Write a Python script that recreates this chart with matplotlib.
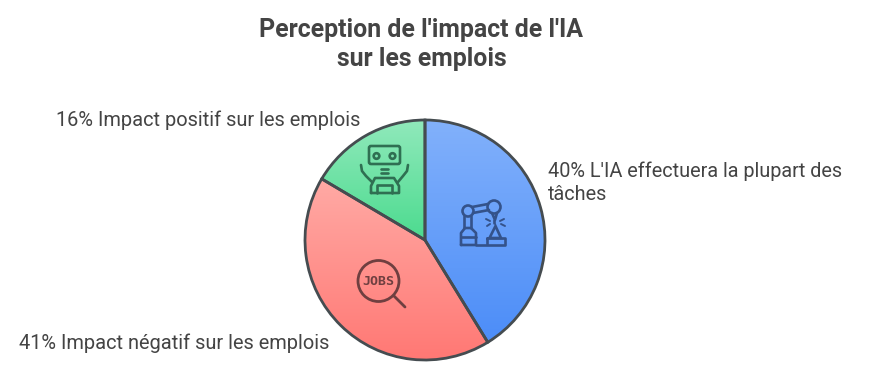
import numpy as np
from matplotlib import pyplot as plt
from matplotlib.colors import LinearSegmentedColormap
from matplotlib.patches import Circle, Polygon, FancyBboxPatch

title = "Perception de l'impact de l'IA\nsur les emplois"
labels = ["40% L'IA effectuera la plupart des\ntâches",
          "41% Impact négatif sur les emplois",
          "16% Impact positif sur les emplois"]
values = [40, 41, 16]
colors_top = ["#82b1fb", "#ffaaa5", "#90e9bb"]
colors_bottom = ["#4c8df8", "#ff7874", "#4cdb8f"]
text_color = "#444444"
edge = "#454c50"

plt.rcParams['font.family'] = ['Roboto', 'DejaVu Sans']

fig = plt.figure(figsize=(8.7, 3.85), dpi=100)
ax = fig.add_axes([0, 0, 1, 1])
ax.set_xlim(0, 870)
ax.set_ylim(0, 385)
ax.axis('off')


def Y(y):
    return 385 - y


wedges, _ = ax.pie(values, center=(425, Y(240)), radius=120, startangle=90,
                   counterclock=False, frame=True,
                   wedgeprops=dict(facecolor='none', edgecolor=edge, linewidth=2, zorder=3))
ax.set_xlim(0, 870)
ax.set_ylim(0, 385)
ax.set_aspect('auto')
ax.axis('off')

# gradient for every slice, clipped to the wedge
for w, c1, c2 in zip(wedges, colors_top, colors_bottom):
    box = w.get_path().transformed(w.get_patch_transform()).get_extents()
    cmap = LinearSegmentedColormap.from_list('g', [c1, c2])
    im = ax.imshow(np.linspace(0, 1, 256).reshape(-1, 1), cmap=cmap, aspect='auto', zorder=2,
                   extent=[box.x0, box.x1, box.y0, box.y1], origin='upper')
    im.set_clip_path(w)
ax.set_xlim(0, 870)
ax.set_ylim(0, 385)

ax.text(421.5, Y(44.5), title, ha='center', va='center', fontsize=17.9, fontweight='bold',
        color=text_color, linespacing=1.29)
ax.text(548, Y(183), labels[0], ha='left', va='center', fontsize=14.3, color=text_color, linespacing=1.27)
ax.text(19, Y(343), labels[1], ha='left', va='center', fontsize=14.4, color=text_color)
ax.text(56, Y(120), labels[2], ha='left', va='center', fontsize=14.4, color=text_color)


def line(pts, color, lw=1.9):
    xs = [p[0] for p in pts]
    ys = [Y(p[1]) for p in pts]
    ax.plot(xs, ys, color=color, lw=lw, solid_capstyle='round', solid_joinstyle='round', zorder=4)


def ring(x, y, r, color, lw=1.9):
    ax.add_patch(Circle((x, Y(y)), r, fill=False, edgecolor=color, lw=lw, zorder=4))


# robot icon
green = "#2f6f52"
ax.add_patch(FancyBboxPatch((369, Y(164)), 31, 18, boxstyle="round,pad=0,rounding_size=2",
                            fill=False, edgecolor=green, lw=1.9, zorder=4))
ring(376.5, 156, 2.8, green)
ring(392.5, 156, 2.8, green)
line([(381, 169), (388, 169)], green)
line([(381, 173), (388, 173)], green)
line([(371, 193), (371, 186), (375, 178), (394, 178), (399, 186), (399, 193), (371, 193)], green)
line([(377, 193), (377, 185), (392, 185), (392, 193)], green)
line([(361, 165), (362, 171), (366, 176), (372, 182)], green)
line([(408, 165), (407, 171), (403, 176), (398, 182)], green)

# robot arm icon
blue = "#34528a"
ring(468, 211, 5.5, blue)
ring(494, 207, 6.5, blue)
line([(472, 207), (488, 204)], blue)
line([(473, 213), (489, 210)], blue)
line([(464, 216), (464, 228)], blue)
line([(471, 216), (471, 228)], blue)
line([(461, 245), (461, 233), (465, 228), (471, 228), (476, 233), (476, 245), (461, 245)], blue)
line([(461, 237), (476, 237)], blue)
line([(476, 245), (486, 245)], blue)
line([(487, 238), (505, 238), (505, 245), (487, 245), (487, 238)], blue)
ax.add_patch(Polygon([(489.5, Y(238)), (495.5, Y(226)), (501, Y(238))], closed=True, fill=False,
                     edgecolor=blue, lw=1.9, zorder=4))
line([(492, 213), (495, 220), (497, 213)], blue)
line([(494, 220), (494, 223)], blue)
for seg in [[(486, 219), (490, 221)], [(487, 226), (490, 224)], [(504, 219), (500, 221)],
            [(505, 226), (501, 224)]]:
    line(seg, blue, lw=1.4)

# jobs icon
red = "#6f3f40"
ring(378.5, 281, 20.5, red, lw=2)
line([(394, 296), (405, 307)], red, lw=2)
ax.text(378.5, Y(281.5), "JOBS", ha='center', va='center', fontsize=9.5, fontweight='bold',
        family=['DejaVu Sans Mono'], color=red, zorder=4)

fig.savefig('out.png', dpi=100)
